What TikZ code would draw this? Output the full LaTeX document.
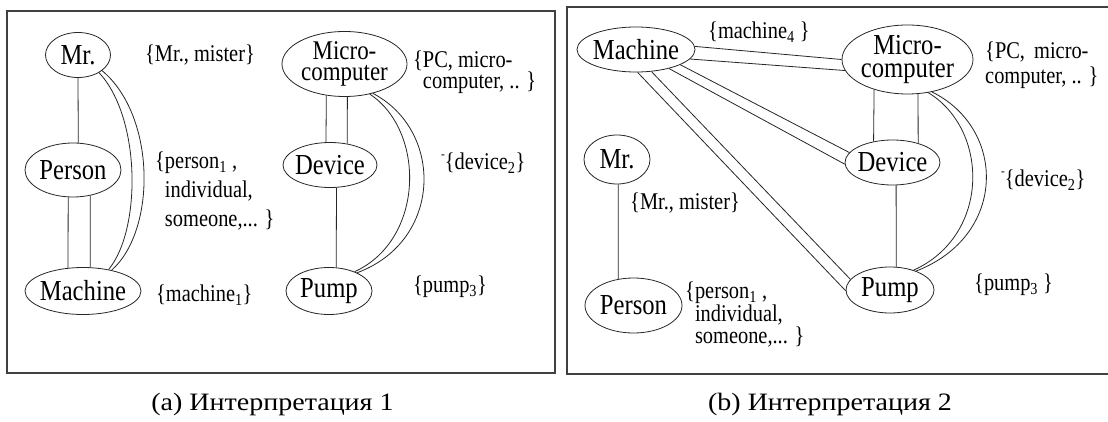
\documentclass[tikz,border=0pt]{standalone}
\usepackage{fontspec}
\usetikzlibrary{shapes.geometric}
\newfontfamily\nfont[FakeStretch=0.85]{Liberation Serif}
\newfontfamily\lfont[FakeStretch=0.85]{Liberation Serif}
\newfontfamily\capfont[FakeStretch=1.12]{Liberation Serif}
\newcommand{\nt}[1]{\makebox[0pt]{#1}}
\newcommand{\ntt}[2]{\makebox[0pt]{\begin{tabular}{@{}c@{}}#1\\#2\end{tabular}}}
\newcommand{\tck}{\raisebox{.45em}{\scalebox{.55}{-}}}
\begin{document}
\begin{tikzpicture}[x=1pt,y=-1pt,
  ell/.style={ellipse, draw=black!85, line width=0.8pt, inner sep=0pt, font=\nfont\fontsize{29}{22}\selectfont},
  lbl/.style={anchor=west, inner sep=0pt, align=left, font=\lfont\fontsize{24}{29}\selectfont},
  conn/.style={draw=black!85, line width=0.8pt},
  panelframe/.style={draw=black!75, line width=1.3pt},
  captxt/.style={inner sep=0pt, font=\capfont\fontsize{25}{30}\selectfont}]
\useasboundingbox (0,0) rectangle (1108,422);
% frames
\draw[panelframe] (7,11) rectangle (555,373);
\draw[panelframe] (1110,7) -- (567,7) -- (567,374) -- (1110,374);

% ---------- panel a ----------
\node[ell, minimum width=65, minimum height=45] (mrA) at (78,55) {\nt{Mr.}};
\node[ell, minimum width=96, minimum height=54] (persA) at (73,170) {\nt{Person}};
\node[ell, minimum width=116, minimum height=47] (machA) at (83,291) {\nt{Machine}};
\node[ell, minimum width=125, minimum height=65, font=\nfont\fontsize{27}{21}\selectfont] (microA) at (344.5,64) {\ntt{Micro-}{computer}};
\node[ell, minimum width=94, minimum height=45] (devA) at (330,165) {\nt{Device}};
\node[ell, minimum width=86, minimum height=47] (pumpA) at (329,291) {\nt{Pump}};

\draw[conn] (mrA.south) -- (persA.79.5);
\draw[conn] (persA.-100.5) -- (machA.123.5);
\draw[conn] (persA.-56) -- (machA.73.3);
\draw[conn] (mrA.-40) .. controls +(42,45) and +(33,-40) .. (machA.40);
\draw[conn] (mrA.-33) .. controls +(54,45) and +(45,-40) .. (machA.36);

\draw[conn] (microA.-120.8) -- (devA.100.1);
\draw[conn] (microA.-85.6) -- (devA.51);
\draw[conn] (devA.-74.9) -- (pumpA.73.2);
\draw[conn] (microA.-50) .. controls +(56,37) and +(70,-32) .. (pumpA.37);
\draw[conn] (microA.-46) .. controls +(71,37) and +(86,-32) .. (pumpA.33);

\node[lbl] (lmrA) at (145,55) {\{Mr., mister\}};
\node[lbl] (lpersA) at (155,191) {\{person\textsubscript{1} ,\\\hphantom{\{}individual,\\\hphantom{\{}someone,... \}};
\node[lbl] (lmachA) at (156,295) {\{machine\textsubscript{1}\}};
\node[lbl, font=\lfont\fontsize{24}{20}\selectfont] (lmicroA) at (413,72) {\{PC, micro-\\\hphantom{\{}computer, .. \}};
\node[lbl] (ldevA) at (441,163) {\tck\{device\textsubscript{2}\}};
\node[lbl] (lpumpA) at (413,287) {\{pump\textsubscript{3}\}};

% ---------- panel b ----------
\node[ell, minimum width=118, minimum height=45] (machB) at (636,49.5) {\nt{Machine}};
\node[ell, minimum width=66, minimum height=49] (mrB) at (617,159.5) {\nt{Mr.}};
\node[ell, minimum width=97, minimum height=55] (persB) at (633.5,305.5) {\nt{Person}};
\node[ell, minimum width=131, minimum height=69] (microB) at (907.5,59.5) {\ntt{Micro-}{computer}};
\node[ell, minimum width=95, minimum height=45] (devB) at (892.5,162.5) {\nt{Device}};
\node[ell, minimum width=88, minimum height=46] (pumpB) at (890,290) {\nt{Pump}};

\draw[conn] (mrB.-87.7) -- (persB.120.7);
\draw[conn] (machB.3) -- (microB.180);
\draw[conn] (machB.-10) -- (microB.190.5);
\draw[conn] (machB.-19) -- (devB.167);
\draw[conn] (machB.-30) -- (devB.182);
\draw[conn] (machB.-55) -- (pumpB.165);
\draw[conn] (machB.-86) -- (pumpB.181);
\draw[conn] (microB.-138.5) -- (devB.132);
\draw[conn] (microB.-73) -- (devB.37);
\draw[conn] (devB.-81.2) -- (pumpB.75.2);
\draw[conn] (microB.-58) .. controls +(61,37) and +(77,-35) .. (pumpB.40);
\draw[conn] (microB.-53) .. controls +(75,37) and +(91,-35) .. (pumpB.36);

\node[lbl] (lmachB) at (708,32) {\{machine\textsubscript{4} \}};
\node[lbl, font=\lfont\fontsize{24}{25}\selectfont] (lmicroB) at (985,65.5) {\{PC,\, micro-\\computer, .. \}};
\node[lbl] (ldevB) at (1001,180) {\tck\{device\textsubscript{2}\}};
\node[lbl] (lpumpB) at (974,285) {\{pump\textsubscript{3} \}};
\node[lbl] (lmrB) at (630,203) {\{Mr., mister\}};
\node[lbl, font=\lfont\fontsize{24}{19}\selectfont] (lpersB) at (685,314.5) {\{person\textsubscript{1} ,\\\hphantom{\{}individual,\\\hphantom{\{}someone,... \}};

% captions
\node[captxt] (capA) at (272.5,404.5) {(a) Интерпретация 1};
\node[captxt] (capB) at (830,404.5) {(b) Интерпретация 2};
\end{tikzpicture}
\end{document}
